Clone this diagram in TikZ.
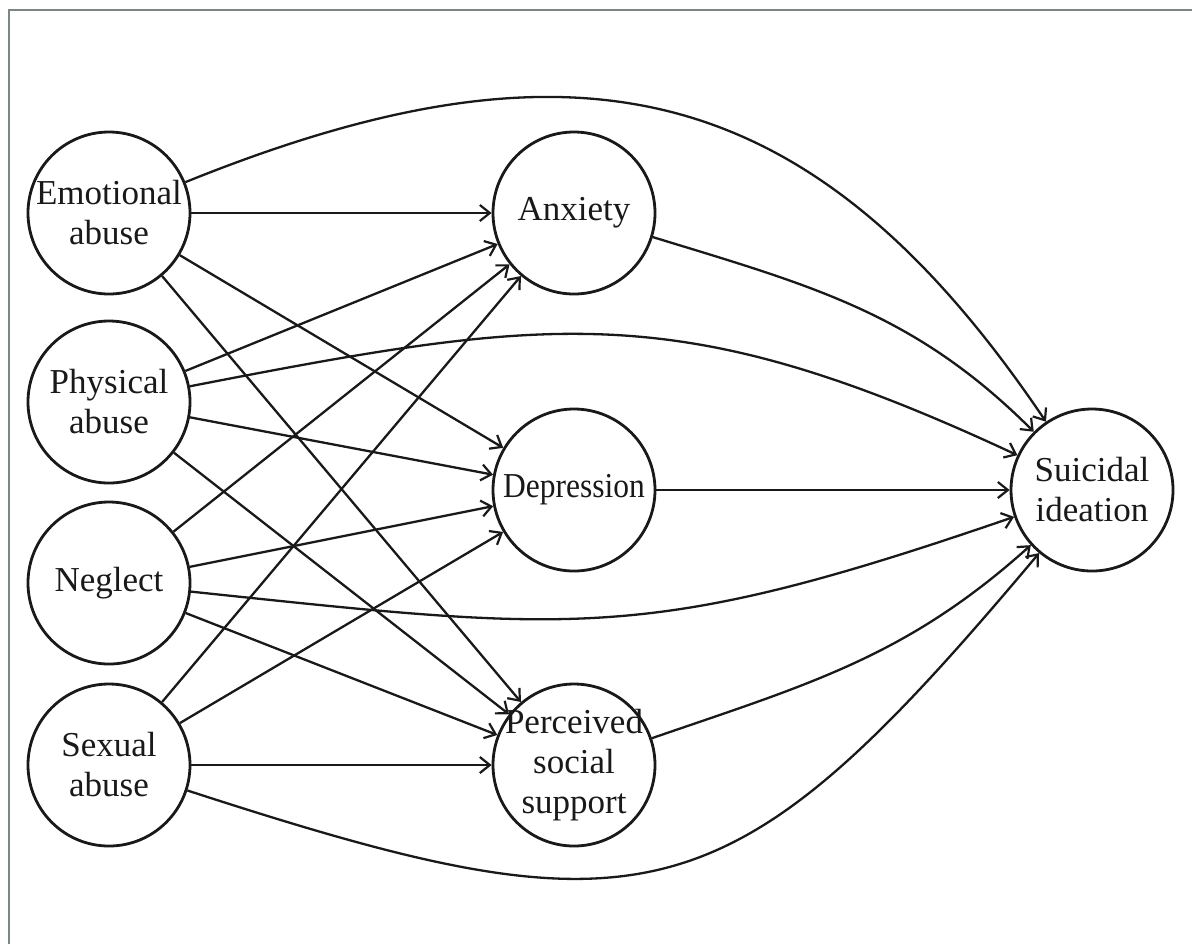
\documentclass[tikz,border=0pt]{standalone}
\usepackage{fontspec}
\setmainfont{Liberation Serif}
\usetikzlibrary{arrows.meta}
\definecolor{framegray}{RGB}{125,135,130}
\definecolor{inkcol}{RGB}{25,25,25}
\begin{document}
\begin{tikzpicture}[x=0.5pt,y=-0.5pt,
  var/.style={circle,draw=inkcol,text=inkcol,line width=1.4pt,minimum size=81pt,inner sep=0pt,align=center,font=\fontsize{17.5}{20}\selectfont},
  conn/.style={draw=inkcol,line width=1.15pt,-{Straight Barb[length=5pt,width=8pt,line width=1.1pt]}}]
\useasboundingbox (0,0) rectangle (1192,944);
\fill[white] (0,0) rectangle (1192,944);
\draw[framegray,line width=1pt] (9,944) -- (9,10) -- (1192,10);

\node[var] (EA) at (109,213) {Emotional\\abuse};
\node[var] (PA) at (109,402) {Physical\\abuse};
\node[var] (NG) at (109,583) {Neglect};
\node[var] (SA) at (109,765) {Sexual\\abuse};
\node[var] (AX) at (574,213) {Anxiety};
\node[var,font=\fontsize{17.5}{20}\selectfont\addfontfeature{FakeStretch=0.9}] (DP) at (574,490) {Depression};
\node[var,inner sep=-14pt] (PS) at (574,765) {Perceived\\social\\support};
\node[var] (SI) at (1092,490) {Suicidal\\ideation};

\foreach \s in {EA,PA,NG,SA}{
  \foreach \t in {AX,DP,PS}{
    \draw[conn] (\s) -- (\t);
  }
}
\draw[conn] (EA) to[out=22,in=124,looseness=1.2] (SI);
\draw[conn] (PA) to[out=11,in=155,looseness=1.15] (SI);
\draw[conn] (NG) to[out=-6,in=199,looseness=1.2] (SI);
\draw[conn] (SA) to[out=-18,in=230,looseness=1.4] (SI);
\draw[conn] (AX) to[out=-17,in=135] (SI);
\draw[conn] (DP) -- (SI);
\draw[conn] (PS) to[out=19,in=222] (SI);
\end{tikzpicture}
\end{document}
